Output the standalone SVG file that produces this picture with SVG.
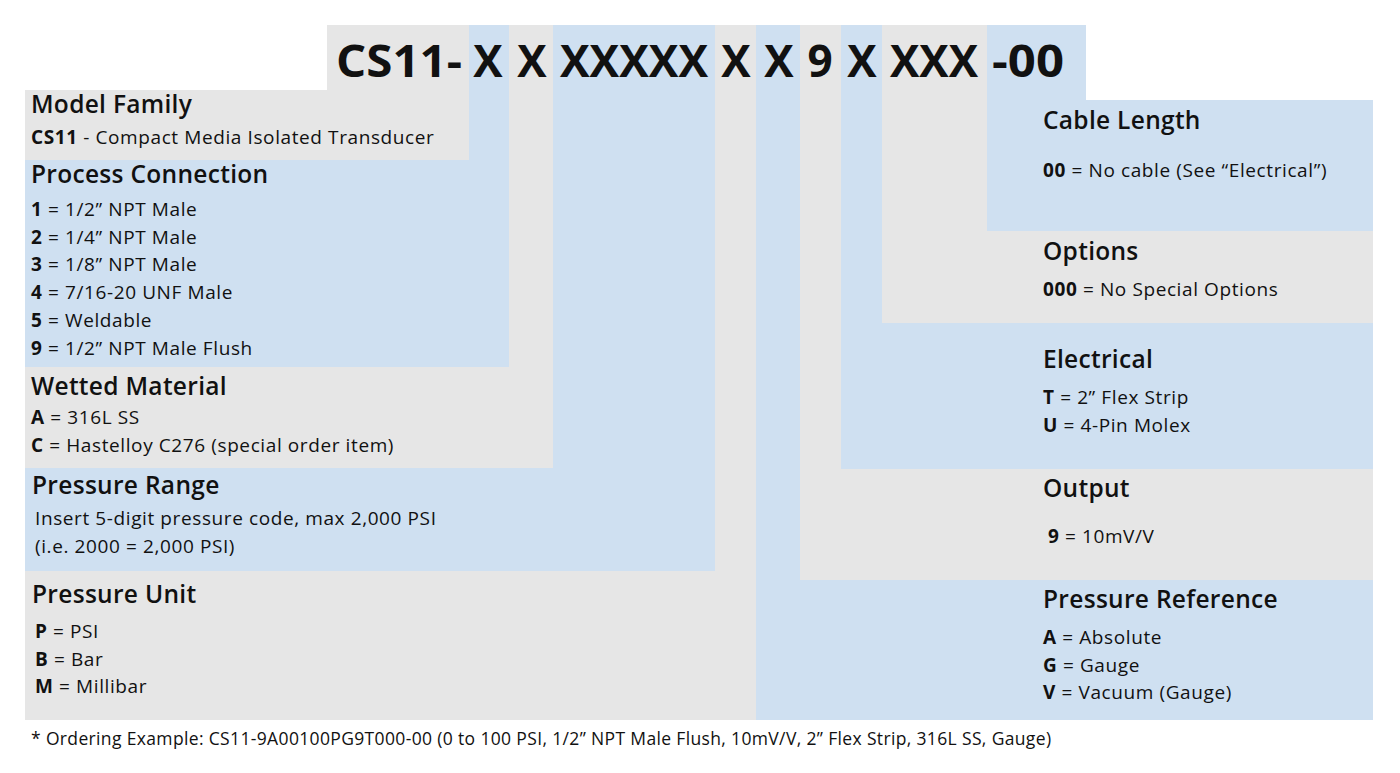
<svg xmlns="http://www.w3.org/2000/svg" width="1400" height="773" viewBox="0 0 1400 773">
<style>
.g{fill:#e6e6e6}.b{fill:#cfe0f1}
text{font-family:"Open Sans","Liberation Sans",sans-serif;fill:#111}
.h{font-size:44px;font-weight:bold;text-anchor:middle;font-family:"Liberation Sans Narrow","Open Sans",sans-serif}
.t{font-size:24.5px;font-weight:600;letter-spacing:0.3px}
.s{font-size:19px;letter-spacing:0.6px}
.f{font-size:17.5px;letter-spacing:0.35px}
</style>
<rect width="1400" height="773" fill="#fff"/>
<g id="header">
<rect class="g" x="327" y="25" width="143" height="66"/>
<rect class="b" x="469" y="25" width="41" height="66"/>
<rect class="g" x="509" y="25" width="44" height="66"/>
<rect class="b" x="553" y="25" width="162" height="66"/>
<rect class="g" x="715" y="25" width="42" height="66"/>
<rect class="b" x="756" y="25" width="45" height="66"/>
<rect class="g" x="800" y="25" width="42" height="66"/>
<rect class="b" x="841" y="25" width="42" height="66"/>
<rect class="g" x="882" y="25" width="105" height="66"/>
<rect class="b" x="987" y="25" width="99" height="66"/>
<text class="h" x="399" y="77" textLength="126" lengthAdjust="spacingAndGlyphs">CS11-</text>
<text class="h" x="488" y="77">X</text>
<text class="h" x="532" y="77">X</text>
<text class="h" x="634" y="77" textLength="148" lengthAdjust="spacingAndGlyphs">XXXXX</text>
<text class="h" x="736" y="77">X</text>
<text class="h" x="779" y="77">X</text>
<text class="h" x="820" y="77">9</text>
<text class="h" x="862" y="77">X</text>
<text class="h" x="934" y="77" textLength="88" lengthAdjust="spacingAndGlyphs">XXX</text>
<text class="h" x="1028" y="77" textLength="72" lengthAdjust="spacingAndGlyphs">-00</text>
</g>
<g id="model-family">
<rect class="g" x="25" y="90" width="445" height="71"/>
<text class="t" x="31" y="113">Model Family</text>
<text class="s" x="31" y="144"><tspan font-weight="bold">CS11</tspan> - Compact Media Isolated Transducer</text>
</g>
<g id="process-connection">
<rect class="b" x="25" y="160" width="485" height="207"/>
<rect class="b" x="469" y="90" width="41" height="71"/>
<text class="t" x="31" y="183">Process Connection</text>
<text class="s" x="31" y="216"><tspan font-weight="bold">1</tspan> = 1/2” NPT Male</text>
<text class="s" x="31" y="244"><tspan font-weight="bold">2</tspan> = 1/4” NPT Male</text>
<text class="s" x="31" y="271"><tspan font-weight="bold">3</tspan> = 1/8” NPT Male</text>
<text class="s" x="31" y="299"><tspan font-weight="bold">4</tspan> = 7/16-20 UNF Male</text>
<text class="s" x="31" y="327"><tspan font-weight="bold">5</tspan> = Weldable</text>
<text class="s" x="31" y="355"><tspan font-weight="bold">9</tspan> = 1/2” NPT Male Flush</text>
</g>
<g id="wetted-material">
<rect class="g" x="25" y="367" width="528" height="102"/>
<rect class="g" x="509" y="90" width="44" height="278"/>
<text class="t" x="31" y="395">Wetted Material</text>
<text class="s" x="31" y="424"><tspan font-weight="bold">A</tspan> = 316L SS</text>
<text class="s" x="31" y="452"><tspan font-weight="bold">C</tspan> = Hastelloy C276 (special order item)</text>
</g>
<g id="pressure-range">
<rect class="b" x="25" y="468" width="690" height="104"/>
<rect class="b" x="553" y="90" width="162" height="379"/>
<text class="t" x="32" y="494">Pressure Range</text>
<text class="s" x="35" y="525">Insert 5-digit pressure code, max 2,000 PSI</text>
<text class="s" x="35" y="553">(i.e. 2000 = 2,000 PSI)</text>
</g>
<g id="pressure-unit">
<rect class="g" x="25" y="571" width="732" height="149"/>
<rect class="g" x="715" y="90" width="42" height="482"/>
<text class="t" x="32" y="603">Pressure Unit</text>
<text class="s" x="35" y="638"><tspan font-weight="bold">P</tspan>  = PSI</text>
<text class="s" x="35" y="666"><tspan font-weight="bold">B</tspan>  = Bar</text>
<text class="s" x="35" y="693"><tspan font-weight="bold">M</tspan> = Millibar</text>
</g>
<g id="pressure-reference">
<rect class="b" x="756" y="579" width="617" height="141"/>
<rect class="b" x="756" y="90" width="45" height="490"/>
<text class="t" x="1043" y="608">Pressure Reference</text>
<text class="s" x="1043" y="644"><tspan font-weight="bold">A</tspan> = Absolute</text>
<text class="s" x="1043" y="672"><tspan font-weight="bold">G</tspan> = Gauge</text>
<text class="s" x="1043" y="699"><tspan font-weight="bold">V</tspan> = Vacuum (Gauge)</text>
</g>
<g id="output">
<rect class="g" x="800" y="468" width="573" height="112"/>
<rect class="g" x="800" y="90" width="42" height="379"/>
<text class="t" x="1043" y="497">Output</text>
<text class="s" x="1048" y="543"><tspan font-weight="bold">9</tspan> = 10mV/V</text>
</g>
<g id="electrical">
<rect class="b" x="841" y="322" width="532" height="147"/>
<rect class="b" x="841" y="90" width="42" height="233"/>
<text class="t" x="1043" y="368">Electrical</text>
<text class="s" x="1043" y="404"><tspan font-weight="bold">T</tspan> = 2” Flex Strip</text>
<text class="s" x="1043" y="432"><tspan font-weight="bold">U</tspan> = 4-Pin Molex</text>
</g>
<g id="options">
<rect class="g" x="882" y="230" width="491" height="93"/>
<rect class="g" x="882" y="90" width="105" height="141"/>
<text class="t" x="1043" y="260">Options</text>
<text class="s" x="1043" y="296"><tspan font-weight="bold">000</tspan> = No Special Options</text>
</g>
<g id="cable-length">
<rect class="b" x="987" y="100" width="386" height="131"/>
<rect class="b" x="987" y="90" width="99" height="11"/>
<text class="t" x="1043" y="129">Cable Length</text>
<text class="s" x="1043" y="177"><tspan font-weight="bold">00</tspan> = No cable (See “Electrical”)</text>
</g>
<g id="connectors"/>
<text class="f" x="31" y="745">* Ordering Example: CS11-9A00100PG9T000-00 (0 to 100 PSI, 1/2” NPT Male Flush, 10mV/V, 2” Flex Strip, 316L SS, Gauge)</text>
</svg>
